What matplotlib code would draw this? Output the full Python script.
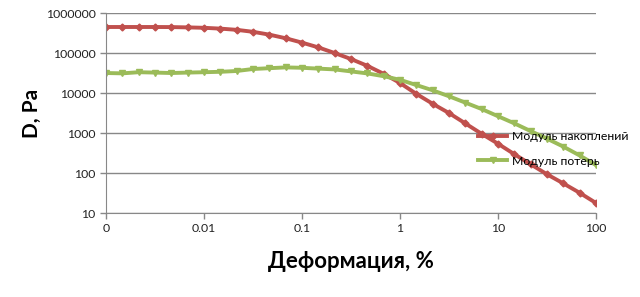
import matplotlib
matplotlib.use('Agg')
import matplotlib.pyplot as plt
import numpy as np

plt.rcParams['font.family'] = ['Lato', 'DejaVu Sans']

# strain, % (log spaced, 6 points per decade)
strain = [0.001, 0.00147, 0.00215, 0.00316, 0.00464, 0.00681,
          0.01, 0.0147, 0.0215, 0.0316, 0.0464, 0.0681,
          0.1, 0.147, 0.215, 0.316, 0.464, 0.681,
          1.0, 1.47, 2.15, 3.16, 4.64, 6.81,
          10, 14.7, 21.5, 31.6, 46.4, 68.1, 100]

# storage modulus, Pa
storage = [447000, 447000, 447000, 447000, 445000, 437000,
           427000, 407000, 380000, 339000, 288000, 234000,
           182000, 138000, 100000, 70800, 47900, 30200,
           17800, 9500, 5400, 3160, 1740, 955,
           540, 295, 166, 93, 55, 32, 17.8]

# loss modulus, Pa
loss = [31600, 31000, 33100, 32400, 31600, 32400,
        33100, 33900, 35500, 39800, 41700, 43700,
        42700, 40700, 38900, 34700, 30900, 26300,
        21400, 15800, 11700, 8300, 5750, 3980,
        2630, 1740, 1120, 724, 457, 275, 158]

red = '#C0504D'
green = '#9BBB59'

fig = plt.figure(figsize=(6.4, 2.97), dpi=100)
ax = fig.add_axes([0.1656, 0.2828, 0.7656, 0.6734])

ax.plot(strain, storage, color=red, lw=2.8, marker='D', ms=3.5,
        label='Модуль накоплений')
ax.plot(strain, loss, color=green, lw=2.8, marker='v', ms=4.5,
        label='Модуль потерь')

ax.set_xscale('log')
ax.set_yscale('log')
ax.set_xlim(0.001, 100)
ax.set_ylim(10, 1000000)

xt = [0.001, 0.01, 0.1, 1, 10, 100]
xl = ['0', '0.01', '0.1', '1', '10', '100']
yt = [10, 100, 1000, 10000, 100000, 1000000]
yl = ['10', '100', '1000', '10000', '100000', '1000000']
ax.set_xticks(xt)
ax.set_xticklabels(xl)
ax.set_yticks(yt)
ax.set_yticklabels(yl)
ax.minorticks_off()

ax.grid(axis='y', color='#888888', lw=1)
ax.set_axisbelow(True)
for s in ['top', 'right']:
    ax.spines[s].set_visible(False)
for s in ['left', 'bottom']:
    ax.spines[s].set_color('#888888')
ax.tick_params(colors='#888888', labelcolor='#222222', labelsize=8.8,
               length=4, width=1)

ax.set_xlabel('Деформация, %', fontsize=16, fontweight='bold', labelpad=12)
ax.set_ylabel('D, Pa', fontsize=15, fontweight='bold', labelpad=3)

fig.legend(loc='upper left', bbox_to_anchor=(0.739, 0.575), frameon=False,
           fontsize=8.8, handlelength=2.4, handletextpad=0.4,
           labelspacing=1.1, borderaxespad=0)

fig.savefig('out.png', dpi=100)
